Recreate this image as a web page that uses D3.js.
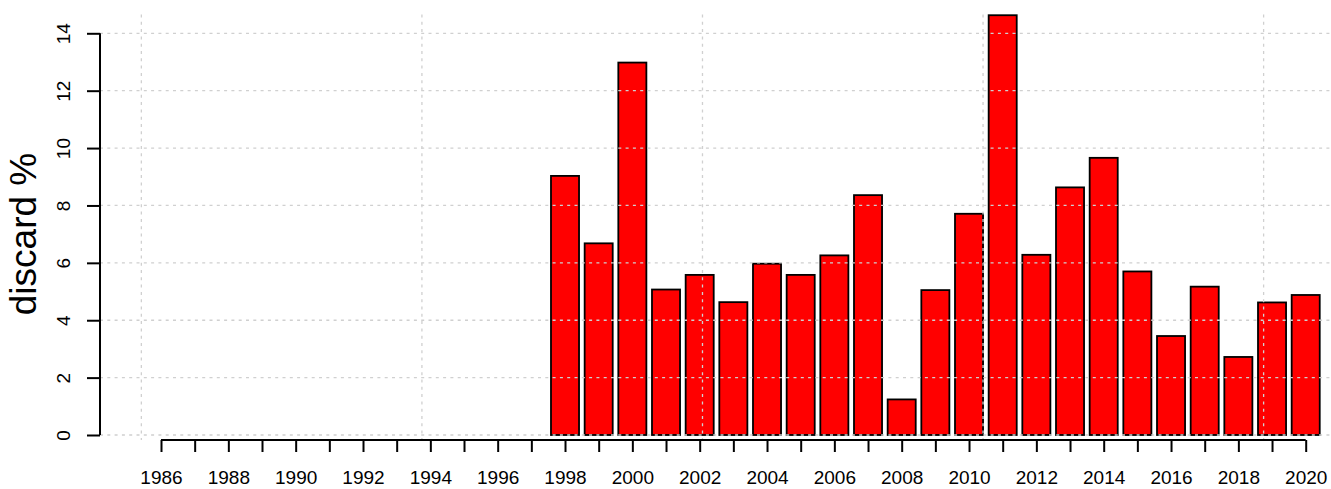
<!DOCTYPE html>
<html>
<head>
<meta charset="utf-8">
<script src="https://cdn.jsdelivr.net/npm/d3@7"></script>
<style>
  html, body { margin: 0; padding: 0; background: #fff; }
  svg { display: block; }
  text { font-family: "Liberation Sans", Arial, sans-serif; fill: #000; }
</style>
</head>
<body>
<svg id="chart" width="1331" height="489"></svg>
<script>
const years = d3.range(1986, 2021);
const discard = [
  null, null, null, null, null, null, null, null, null, null, null, null,
  9.03, 6.68, 12.98, 5.07, 5.58, 4.63, 5.97, 5.58, 6.26, 8.36, 1.24, 5.05,
  7.71, 14.63, 6.28, 8.63, 9.66, 5.70, 3.45, 5.17, 2.72, 4.62, 4.88
];
const yTicks = [0, 2, 4, 6, 8, 10, 12, 14];
const xLabelYears = d3.range(1986, 2021, 2);
const gridUnits = [0, 10, 20, 30, 40];
const yLabel = "discard %";

const svg = d3.select("#chart");

// bar-unit scale (R barplot user coords: centres at 0.7 + 1.2*i)
const xu = d3.scaleLinear().domain([0.7, 0.7 + 1.2 * 34]).range([161, 1305.7]);
const xYear = d3.scaleLinear().domain([1986, 2020]).range([161, 1305.7]);
const barW = (xu(1.7) - xu(0.7));
const y = d3.scaleLinear().domain([0, 14]).range([435, 33.3]);

const data = years.map((yr, i) => ({ year: yr, value: discard[i] }));

// bars
svg.append("g").selectAll("rect")
  .data(data.filter(d => d.value !== null))
  .join("rect")
  .attr("x", d => xYear(d.year) - barW / 2)
  .attr("width", barW)
  .attr("y", d => y(d.value))
  .attr("height", d => y(0) - y(d.value))
  .attr("fill", "#ff0000")
  .attr("stroke", "#000")
  .attr("stroke-width", 1.8);

// grid on top
const grid = svg.append("g")
  .attr("stroke", "#d0d0d0")
  .attr("stroke-width", 1.3)
  .attr("stroke-dasharray", "3,4.3");
grid.selectAll("line.h").data(yTicks).join("line").attr("class", "h")
  .attr("x1", 100).attr("x2", 1331)
  .attr("y1", d => y(d)).attr("y2", d => y(d));
grid.selectAll("line.v").data(gridUnits).join("line").attr("class", "v")
  .attr("x1", d => xu(d)).attr("x2", d => xu(d))
  .attr("y1", 14.5).attr("y2", 440);

// y axis
const yAxis = d3.axisLeft(y).tickValues(yTicks).tickSize(13).tickPadding(17).tickFormat(d3.format("d"));
const gy = svg.append("g").attr("transform", "translate(100,0)").call(yAxis);
gy.select(".domain").attr("d", `M0,${y(14)}V${y(0)}`).attr("stroke-width", 2);
gy.selectAll(".tick line").attr("stroke-width", 2);
gy.selectAll(".tick text")
  .attr("font-size", 19)
  .attr("font-family", "Liberation Sans, Arial, sans-serif")
  .attr("text-anchor", "middle")
  .attr("dy", 0)
  .attr("x", 0)
  .attr("transform", "translate(-30,0) rotate(-90)");

// x axis
const xAxis = d3.axisBottom(xYear).tickValues(years).tickSize(12).tickPadding(0)
  .tickFormat(d => xLabelYears.includes(d) ? String(d) : "");
const gx = svg.append("g").attr("transform", "translate(0,440)").call(xAxis);
gx.select(".domain").attr("d", `M${xYear(1986)},0H${xYear(2020)}`).attr("stroke-width", 2);
gx.selectAll(".tick line").attr("stroke-width", 2);
gx.selectAll(".tick text")
  .attr("font-size", 19)
  .attr("font-family", "Liberation Sans, Arial, sans-serif")
  .attr("dy", 0)
  .attr("y", 44);

// y label
svg.append("text")
  .attr("transform", "translate(36,234) rotate(-90)")
  .attr("text-anchor", "middle")
  .attr("font-size", 37)
  .text(yLabel);
</script>
</body>
</html>
